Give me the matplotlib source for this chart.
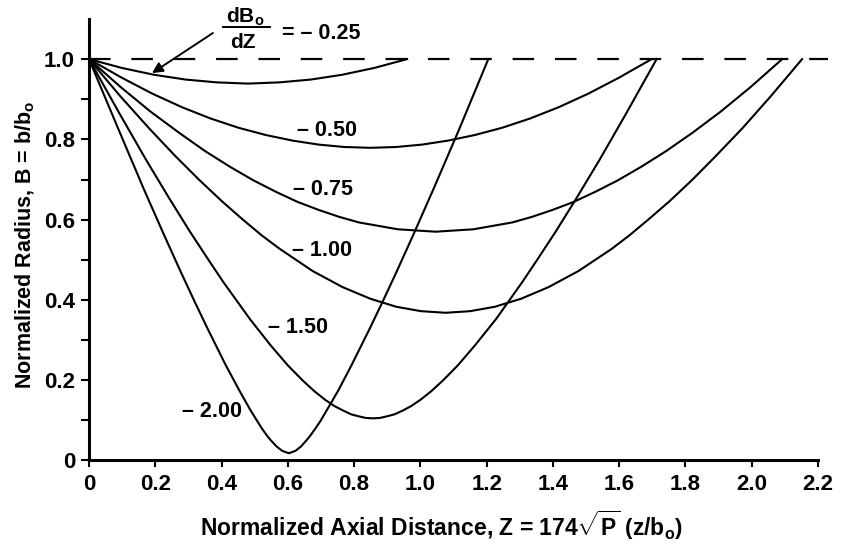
import matplotlib
matplotlib.use("Agg")
import matplotlib.pyplot as plt

# fonts: bold Arial-like everywhere, incl. the math bits
plt.rcParams['font.family'] = 'Liberation Sans'
plt.rcParams['font.weight'] = 'bold'
plt.rcParams['axes.labelweight'] = 'bold'
plt.rcParams['mathtext.fontset'] = 'custom'
plt.rcParams['mathtext.rm'] = 'Liberation Sans:bold'
plt.rcParams['mathtext.it'] = 'Liberation Sans:bold'
plt.rcParams['mathtext.bf'] = 'Liberation Sans:bold'
plt.rcParams['mathtext.default'] = 'rm'
plt.rcParams['lines.scale_dashes'] = False

# beam envelope curves
z_025 = [0.0, 0.099, 0.196, 0.292, 0.386, 0.480, 0.574, 0.669, 0.764, 0.861, 0.960]
b_025 = [1.0, 0.978, 0.961, 0.949, 0.942, 0.939, 0.942, 0.949, 0.961, 0.978, 1.0]

z_050 = [0.0, 0.098, 0.191, 0.281, 0.367, 0.451, 0.533, 0.614, 0.693, 0.771, 0.849,
         0.927, 1.005, 1.084, 1.165, 1.247, 1.331, 1.417, 1.507, 1.600, 1.698]
b_050 = [1.0, 0.954, 0.914, 0.880, 0.852, 0.829, 0.811, 0.797, 0.787, 0.781, 0.779,
         0.781, 0.787, 0.797, 0.811, 0.829, 0.852, 0.880, 0.914, 0.954, 1.0]

z_075 = [0.0, 0.096, 0.186, 0.271, 0.350, 0.425, 0.496, 0.565, 0.630, 0.694, 0.755, 0.815,
         0.932, 1.046, 1.160, 1.277, 1.337, 1.398, 1.462, 1.527, 1.596, 1.667, 1.742,
         1.822, 1.906, 1.996, 2.092]
b_075 = [1.0, 0.930, 0.869, 0.817, 0.771, 0.732, 0.698, 0.669, 0.644, 0.624, 0.607, 0.593,
         0.576, 0.570, 0.576, 0.593, 0.607, 0.624, 0.644, 0.669, 0.698, 0.732, 0.771,
         0.817, 0.869, 0.930, 1.0]

z_100 = [0.0, 0.095, 0.182, 0.261, 0.334, 0.401, 0.463, 0.521, 0.576, 0.675, 0.765, 0.849,
         0.927, 1.002, 1.076, 1.150, 1.225, 1.304, 1.387, 1.477, 1.577, 1.631, 1.689,
         1.752, 1.819, 1.891, 1.971, 2.057, 2.152]
b_100 = [1.0, 0.907, 0.827, 0.758, 0.698, 0.646, 0.601, 0.561, 0.527, 0.472, 0.432, 0.403,
         0.383, 0.372, 0.368, 0.372, 0.383, 0.403, 0.432, 0.472, 0.527, 0.561, 0.601,
         0.646, 0.698, 0.758, 0.827, 0.907, 1.0]

z_150 = [0.0, 0.093, 0.173, 0.243, 0.304, 0.358, 0.405, 0.485, 0.548, 0.600, 0.644, 0.681,
         0.713, 0.742, 0.768, 0.791, 0.814, 0.835, 0.857, 0.878, 0.899, 0.922, 0.946,
         0.971, 1.000, 1.032, 1.069, 1.113, 1.165, 1.229, 1.308, 1.355, 1.409, 1.470,
         1.540, 1.620, 1.713]
b_150 = [1.0, 0.863, 0.748, 0.652, 0.571, 0.503, 0.445, 0.353, 0.287, 0.237, 0.200, 0.172,
         0.151, 0.135, 0.124, 0.115, 0.110, 0.106, 0.105, 0.106, 0.110, 0.115, 0.124,
         0.135, 0.151, 0.172, 0.200, 0.237, 0.287, 0.353, 0.445, 0.503, 0.571, 0.652,
         0.748, 0.863, 1.0]

z_200 = [0.0, 0.091, 0.165, 0.227, 0.278, 0.321, 0.357, 0.413, 0.454, 0.484, 0.507, 0.524,
         0.538, 0.549, 0.566, 0.583, 0.603, 0.623, 0.640, 0.656, 0.667, 0.681, 0.699,
         0.721, 0.752, 0.792, 0.848, 0.884, 0.927, 0.978, 1.040, 1.115, 1.205]
b_200 = [1.0, 0.821, 0.677, 0.561, 0.468, 0.392, 0.330, 0.237, 0.174, 0.130, 0.099, 0.077,
         0.061, 0.050, 0.035, 0.024, 0.018, 0.024, 0.035, 0.050, 0.061, 0.077, 0.099,
         0.130, 0.174, 0.237, 0.330, 0.392, 0.468, 0.561, 0.677, 0.821, 1.0]

curves = [(z_025, b_025), (z_050, b_050), (z_075, b_075),
          (z_100, b_100), (z_150, b_150), (z_200, b_200)]

curve_labels = ['\u2013 0.50', '\u2013 0.75', '\u2013 1.00', '\u2013 1.50', '\u2013 2.00']
label_z = [0.717, 0.706, 0.702, 0.632, 0.370]
label_b = [0.823, 0.674, 0.523, 0.331, 0.123]

xticks = [0, 0.2, 0.4, 0.6, 0.8, 1.0, 1.2, 1.4, 1.6, 1.8, 2.0, 2.2]
xticklabels = ['0', '0.2', '0.4', '0.6', '0.8', '1.0', '1.2', '1.4', '1.6', '1.8', '2.0', '2.2']
yticks = [0, 0.2, 0.4, 0.6, 0.8, 1.0]
yticklabels = ['0', '0.2', '0.4', '0.6', '0.8', '1.0']

fig = plt.figure(figsize=(8.42, 5.53), dpi=100)
ax = fig.add_axes([0.1057, 0.1673, 0.8658, 0.7984])

ax.plot([0, 2.23], [1.0, 1.0], color='k', lw=1.6, dashes=(15.5, 15), clip_on=False)
for z, b in curves:
    ax.plot(z, b, color='k', lw=1.5, clip_on=False)

for txt, zz, bb in zip(curve_labels, label_z, label_b):
    ax.text(zz, bb, txt, ha='center', va='center', fontsize=15.5)

# dBo/dZ = -0.25 fraction label + arrow
ax.text(0.471, 1.105, 'dB$_{o}$', ha='center', va='center', fontsize=15, clip_on=False)
ax.plot([0.404, 0.546], [1.08, 1.08], color='k', lw=1.4, clip_on=False)
ax.text(0.465, 1.042, 'dZ', ha='center', va='center', fontsize=15, clip_on=False)
ax.text(0.582, 1.065, '= \u2013 0.25', ha='left', va='center', fontsize=15.5, clip_on=False)
ax.annotate('', xy=(0.19, 0.965), xytext=(0.374, 1.065), annotation_clip=False,
            arrowprops=dict(arrowstyle='-|>', lw=1.4, color='k', mutation_scale=16,
                            shrinkA=0, shrinkB=0))

ax.set_xlim(0, 2.2)
ax.set_ylim(0, 1.1)
ax.spines['top'].set_visible(False)
ax.spines['right'].set_visible(False)
ax.spines['left'].set_linewidth(2.2)
ax.spines['bottom'].set_linewidth(2.2)

ax.set_xticks(xticks)
ax.set_xticklabels(xticklabels)
ax.set_yticks(yticks)
ax.set_yticklabels(yticklabels)
ax.set_yticks([0.1, 0.3, 0.5, 0.7, 0.9], minor=True)
ax.tick_params(axis='both', which='both', direction='out', width=1.5, labelsize=16)
ax.tick_params(axis='x', length=5, pad=5)
ax.tick_params(axis='y', which='both', length=6, pad=4)

ax.set_xlabel('Normalized Axial Distance, Z = 174$\\sqrt{P}$ $\\left(z/b_{o}\\right)$', fontsize=16.5)
ax.set_ylabel('Normalized Radius, B = b/b$_{o}$', fontsize=15.5)
ax.xaxis.set_label_coords(0.484, -0.11)
ax.yaxis.set_label_coords(-0.072, 0.488)

fig.savefig('out.png', dpi=100)
